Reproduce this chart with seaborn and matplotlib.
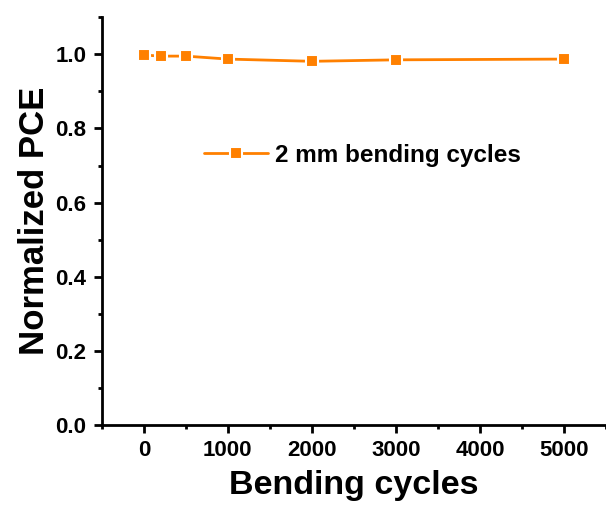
import numpy as np
import pandas as pd
import matplotlib
matplotlib.use("Agg")
import matplotlib.pyplot as plt
import seaborn as sns
from matplotlib.ticker import MultipleLocator

cycles = [0, 200, 500, 1000, 2000, 3000, 5000]
pce = [0.998, 0.995, 0.995, 0.987, 0.981, 0.985, 0.987]
label = "2 mm bending cycles"

df = pd.DataFrame({"cycles": cycles, "pce": pce})

sns.set_style("ticks")
plt.rcParams['font.family'] = ['Liberation Sans', 'DejaVu Sans']
plt.rcParams['font.weight'] = 'bold'
plt.rcParams['text.color'] = 'black'
plt.rcParams['axes.labelcolor'] = 'black'
plt.rcParams['xtick.color'] = 'black'
plt.rcParams['ytick.color'] = 'black'

fig = plt.figure(figsize=(6.06, 5.05), dpi=100)
ax = fig.add_axes([0.168, 0.158, 0.832, 0.808])

sns.lineplot(data=df, x="cycles", y="pce", ax=ax, color="#FF8000",
             marker="s", markersize=8.5, markeredgecolor="white",
             markeredgewidth=1.5, linewidth=2, label=label)

ax.set_xlim(-500, 5500)
ax.set_ylim(0, 1.1)
ax.set_xticks([0, 1000, 2000, 3000, 4000, 5000])
ax.set_yticks([0.0, 0.2, 0.4, 0.6, 0.8, 1.0])
ax.xaxis.set_minor_locator(MultipleLocator(500))
ax.yaxis.set_minor_locator(MultipleLocator(0.1))
ax.yaxis.set_major_formatter(matplotlib.ticker.FormatStrFormatter('%.1f'))

for s in ['top', 'right']:
    ax.spines[s].set_visible(False)
for s in ['left', 'bottom']:
    ax.spines[s].set_linewidth(2)
    ax.spines[s].set_color('black')
ax.tick_params(which='major', length=6, width=2, labelsize=16, direction='out', pad=5)
ax.tick_params(which='minor', length=3, width=2, direction='out')
for t in ax.get_xticklabels() + ax.get_yticklabels():
    t.set_fontweight('bold')

ax.set_xlabel("Bending cycles", fontsize=24.5, fontweight='bold', labelpad=6)
ax.set_ylabel("Normalized PCE", fontsize=25, fontweight='bold', labelpad=3)

leg = ax.legend(loc='center left', bbox_to_anchor=(0.16, 0.662), frameon=False,
                prop={'size': 17.5, 'weight': 'bold'}, handlelength=2.6,
                handletextpad=0.3)

fig.savefig("out.png", dpi=100)
